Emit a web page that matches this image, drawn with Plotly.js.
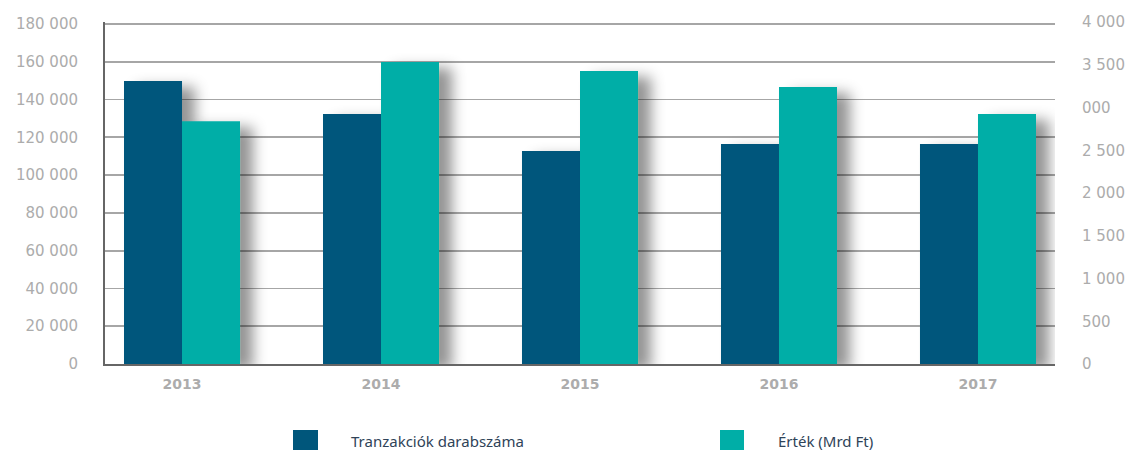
<!DOCTYPE html>
<html>
<head>
<meta charset="utf-8">
<script src="https://cdn.plot.ly/plotly-3.0.1.min.js"></script>
<style>
  html, body { margin: 0; padding: 0; background: #fff; }
  #chart { width: 1134px; height: 450px; }
</style>
</head>
<body>
<div id="chart"></div>
<script>
// ---- data ----
const years = ['2013', '2014', '2015', '2016', '2017'];
const tranzakciok = [149800, 132400, 112800, 116500, 116500];   // Tranzakciók darabszáma
const ertek = [2840, 3533, 3427, 3240, 2925];                    // Érték (Mrd Ft)
const leftTicks = [0, 20000, 40000, 60000, 80000, 100000, 120000, 140000, 160000, 180000];
const rightTicks = [0, 500, 1000, 1500, 2000, 2500, 3000, 3500, 4000];
const rightTickText = ['0', '500', '1 000', '1 500', '2 000', '2 500', '000', '3 500', '4 000'];
const seriesNames = ['Tranzakciók darabszáma', 'Érték (Mrd Ft)'];

const darkBlue = '#00567b';
const teal = '#00aea7';
const tickGrey = '#acacac';

const barW = 0.2915;

const traces = [
  {
    type: 'bar', x: years, y: tranzakciok, name: seriesNames[0],
    marker: { color: darkBlue, line: { width: 0 } },
    width: barW, offset: -barW, yaxis: 'y', showlegend: false,
    hoverinfo: 'x+y'
  },
  {
    type: 'bar', x: years, y: ertek, name: seriesNames[1],
    marker: { color: teal, line: { width: 0 } },
    width: barW, offset: 0, yaxis: 'y2', showlegend: false,
    hoverinfo: 'x+y'
  }
];

function px2x(p) { return (p - 105) / 950; }
function px2y(p) { return (364 - p) / 342; }

const layout = {
  width: 1134, height: 450,
  margin: { l: 105, r: 79, t: 22, b: 86, pad: 0 },
  paper_bgcolor: '#ffffff', plot_bgcolor: '#ffffff',
  separators: ', ',
  barmode: 'overlay',
  showlegend: false,
  xaxis: {
    type: 'category', range: [-0.387, 4.387],
    showgrid: false, zeroline: false,
    showline: true, linecolor: '#666666', linewidth: 2,
    ticks: 'outside', ticklen: 6, tickcolor: 'rgba(0,0,0,0)',
    tickfont: { family: 'DejaVu Sans', size: 14, color: tickGrey, weight: 'bold' },
    fixedrange: true
  },
  yaxis: {
    range: [0, 181059],
    tickvals: leftTicks, tickformat: ',d',
    showgrid: true, gridcolor: '#a6a6a6', gridwidth: 1.8,
    zeroline: false,
    showline: true, linecolor: '#666666', linewidth: 2,
    ticks: 'outside', ticklen: 22, tickcolor: 'rgba(0,0,0,0)',
    tickfont: { family: 'DejaVu Sans', size: 15, color: tickGrey },
    fixedrange: true
  },
  yaxis2: {
    overlaying: 'y', side: 'right',
    range: [0, 4000],
    tickvals: rightTicks, ticktext: rightTickText,
    showgrid: false, zeroline: false, showline: false,
    ticks: 'outside', ticklen: 23, tickcolor: 'rgba(0,0,0,0)',
    tickfont: { family: 'DejaVu Sans', size: 15, color: tickGrey },
    fixedrange: true
  },
  shapes: [
    { type: 'rect', xref: 'paper', yref: 'paper',
      x0: px2x(293), x1: px2x(318), y0: px2y(450), y1: px2y(430),
      fillcolor: darkBlue, line: { width: 0 } },
    { type: 'rect', xref: 'paper', yref: 'paper',
      x0: px2x(720), x1: px2x(744), y0: px2y(450), y1: px2y(430),
      fillcolor: teal, line: { width: 0 } }
  ],
  annotations: [
    { xref: 'paper', yref: 'paper', x: px2x(349), y: px2y(441),
      xanchor: 'left', yanchor: 'middle', showarrow: false, text: seriesNames[0],
      font: { family: 'Noto Sans', size: 15, color: '#2f4358' } },
    { xref: 'paper', yref: 'paper', x: px2x(776), y: px2y(441),
      xanchor: 'left', yanchor: 'middle', showarrow: false, text: seriesNames[1],
      font: { family: 'Noto Sans', size: 15, color: '#2f4358' } }
  ]
};

Plotly.newPlot('chart', traces, layout, { displayModeBar: false, staticPlot: true }).then(function (gd) {
  // soft drop shadow behind bars
  const svg = gd.querySelector('svg.main-svg');
  const ns = 'http://www.w3.org/2000/svg';
  let defs = svg.querySelector('defs');
  if (!defs) { defs = document.createElementNS(ns, 'defs'); svg.insertBefore(defs, svg.firstChild); }
  const f = document.createElementNS(ns, 'filter');
  f.setAttribute('id', 'barShadow');
  f.setAttribute('x', '-20%'); f.setAttribute('y', '-20%');
  f.setAttribute('width', '150%'); f.setAttribute('height', '150%');
  const ds = document.createElementNS(ns, 'feDropShadow');
  ds.setAttribute('dx', '13'); ds.setAttribute('dy', '6');
  ds.setAttribute('stdDeviation', '7');
  ds.setAttribute('flood-color', '#000'); ds.setAttribute('flood-opacity', '0.42');
  f.appendChild(ds);
  defs.appendChild(f);
  gd.querySelectorAll('.barlayer .trace').forEach(function (t) {
    t.setAttribute('filter', 'url(#barShadow)');
  });
});
</script>
</body>
</html>
